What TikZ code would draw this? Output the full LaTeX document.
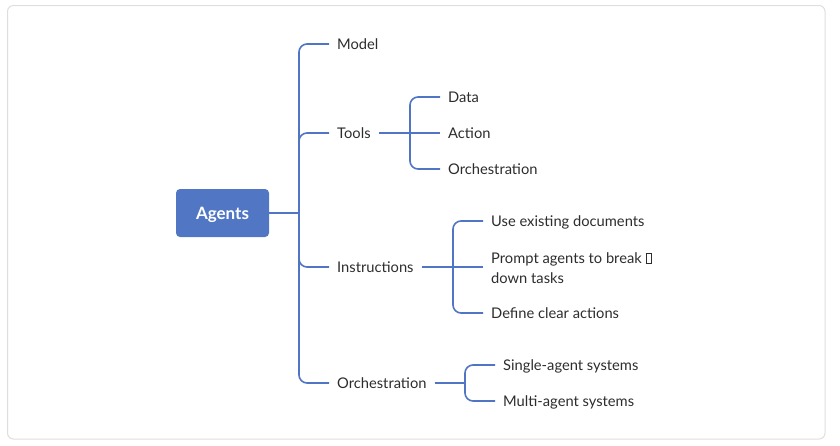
\documentclass[tikz,border=0pt]{standalone}
\usepackage{fontspec}
\setmainfont{Lato}
\definecolor{lineblue}{RGB}{79,117,196}
\definecolor{rootblue}{RGB}{81,119,196}
\definecolor{txt}{RGB}{45,45,45}
\definecolor{frame}{RGB}{222,222,222}
\newcommand{\tofubox}{{\fboxsep=0pt\fboxrule=0.5pt\fbox{\rule{0pt}{9.5pt}\hspace{5pt}}}}
\begin{document}
\begin{tikzpicture}[x=1pt,y=-1pt,
  conn/.style={draw=lineblue,line width=1.6pt,rounded corners=8pt},
  leaf/.style={anchor=west,inner xsep=8pt,inner ysep=0pt,text height=12pt,text depth=1pt,text=txt,font=\fontsize{14.7}{20.5}\selectfont},
  rootbox/.style={fill=rootblue,rounded corners=4pt,minimum width=93pt,minimum height=48pt,text height=13pt,text depth=1pt,text=white,font=\fontsize{17}{20}\selectfont\bfseries}]
\useasboundingbox (0,0) rectangle (840,445);
\draw[frame,line width=1pt,rounded corners=6pt] (7.5,5.5) rectangle (825,439);
% root
\node[rootbox] (root) at (222.5,213) {Agents};
% first level
\coordinate (j1) at (299,213);
\node[leaf] (model) at (329,44) {Model};
\node[leaf] (tools) at (329,133) {Tools};
\node[leaf] (instr) at (329,267) {Instructions};
\node[leaf] (orch) at (329,383) {Orchestration};
\draw[conn] (root.east) -- (j1);
\draw[conn] (j1) |- (model.west);
\draw[conn] (j1) |- (tools.west);
\draw[conn] (j1) |- (instr.west);
\draw[conn] (j1) |- (orch.west);
% tools
\coordinate (j2) at (410,133);
\node[leaf] (data) at (440,97) {Data};
\node[leaf] (action) at (440,133) {Action};
\node[leaf] (orchb) at (440,169) {Orchestration};
\draw[conn] (tools.east) -- (j2);
\draw[conn] (j2) |- (data.west);
\draw[conn] (j2) -- (action.west);
\draw[conn] (j2) |- (orchb.west);
% instructions
\coordinate (j3) at (453,267);
\node[leaf,align=left,text height=,text depth=] (prompt) at (483,268) {Prompt agents to break \tofubox\\down tasks};
\node[leaf] (use) at (483,221) {Use existing documents};
\node[leaf] (define) at (483,313) {Define clear actions};
\draw[conn] (instr.east) -- (j3);
\draw[conn] (j3) |- (use.west);
\draw[conn] (j3) -- (j3 -| prompt.west);
\draw[conn] (j3) |- (define.west);
% orchestration
\coordinate (j4) at (465,383);
\node[leaf] (single) at (495,365) {Single-agent systems};
\node[leaf] (multi) at (495,401) {Multi-agent systems};
\draw[conn] (orch.east) -- (j4);
\draw[conn] (j4) |- (single.west);
\draw[conn] (j4) |- (multi.west);
\end{tikzpicture}
\end{document}
